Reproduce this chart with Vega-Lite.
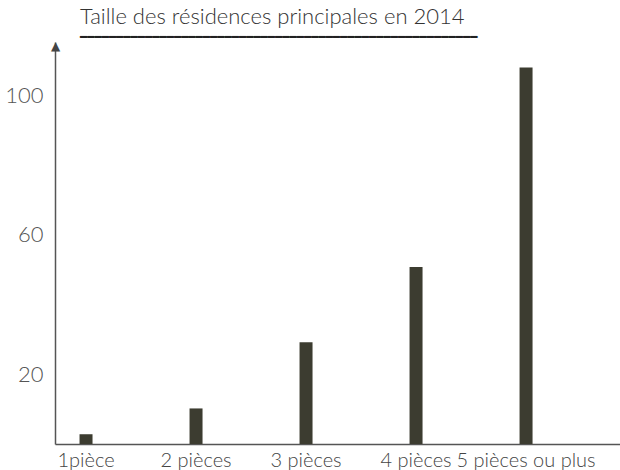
{
  "$schema": "https://vega.github.io/schema/vega-lite/v6.json",
  "autosize": "none",
  "width": 565,
  "height": 402,
  "padding": {"left": 55, "top": 42, "right": 0, "bottom": 26},
  "background": "white",
  "config": {
    "view": {"stroke": null},
    "font": "Lato"
  },
  "title": {
    "text": "Taille des résidences principales en 2014",
    "subtitle": "━━━━━━━━━━━━━━━━━━━━━━━━━━━━━━━━━━━━━━━━━━━━━━━━━━━━━━━",
    "anchor": "start",
    "frame": "group",
    "dx": 25,
    "offset": -5,
    "font": "Lato",
    "fontSize": 22,
    "fontWeight": 300,
    "color": "#333333",
    "subtitleFont": "DejaVu Sans",
    "subtitleFontSize": 12,
    "subtitleColor": "#222222",
    "subtitlePadding": 3
  },
  "data": {
    "values": [
      {"taille": "1pièce", "nombre": 2.8},
      {"taille": "2 pièces", "nombre": 10.2},
      {"taille": "3 pièces", "nombre": 29.2},
      {"taille": "4 pièces", "nombre": 50.75},
      {"taille": "5 pièces ou plus", "nombre": 108}
    ]
  },
  "mark": {"type": "bar", "width": 13, "color": "#3c3c30"},
  "encoding": {
    "x": {
      "field": "taille",
      "type": "nominal",
      "sort": null,
      "scale": {"type": "band", "paddingInner": 0.436, "paddingOuter": 0.286, "align": 0},
      "axis": {
        "title": null,
        "labelAngle": 0,
        "ticks": false,
        "grid": false,
        "domainColor": "#555555",
        "domainWidth": 1.5,
        "labelFont": "Lato",
        "labelFontWeight": 300,
        "labelFontSize": 20,
        "labelColor": "#444444",
        "labelPadding": 6
      }
    },
    "y": {
      "field": "nombre",
      "type": "quantitative",
      "scale": {"domain": [0, 115.3], "nice": false, "zero": true},
      "axis": {
        "values": [20, 60, 100],
        "ticks": false,
        "grid": false,
        "domainColor": "#555555",
        "domainWidth": 1.5,
        "labelFont": "Lato",
        "labelFontWeight": 300,
        "labelFontSize": 22,
        "labelColor": "#555555",
        "labelPadding": 12,
        "title": "▲",
        "titleFont": "DejaVu Sans",
        "titleFontSize": 12,
        "titleColor": "#444444",
        "titleAngle": 0,
        "titleAlign": "center",
        "titleBaseline": "middle",
        "titleX": 0,
        "titleY": 3
      }
    }
  }
}
